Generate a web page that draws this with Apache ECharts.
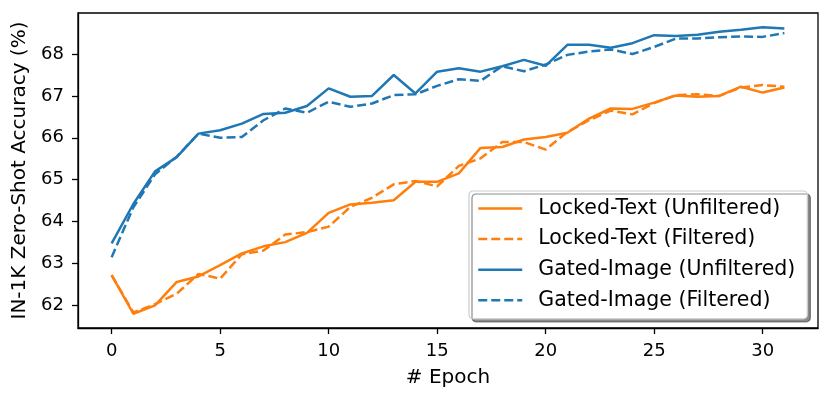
<!DOCTYPE html>
<html>
<head>
<meta charset="utf-8">
<script src="https://cdn.jsdelivr.net/npm/echarts@6/dist/echarts.min.js"></script>
<style>
html,body{margin:0;padding:0;background:#fff;}
#chart{width:831px;height:401px;}
</style>
</head>
<body>
<div id="chart"></div>
<script>
const epochs = [0,1,2,3,4,5,6,7,8,9,10,11,12,13,14,15,16,17,18,19,20,21,22,23,24,25,26,27,28,29,30,31];
const lockedUnfiltered = [62.72,61.80,62.00,62.56,62.69,62.96,63.24,63.41,63.51,63.73,64.21,64.41,64.45,64.51,64.95,64.95,65.15,65.76,65.78,65.96,66.02,66.12,66.46,66.70,66.69,66.84,67.01,66.98,67.00,67.22,67.08,67.20];
const lockedFiltered = [62.72,61.83,62.03,62.28,62.75,62.64,63.22,63.31,63.69,63.75,63.88,64.35,64.57,64.89,64.97,64.84,65.33,65.51,65.90,65.90,65.72,66.14,66.42,66.65,66.56,66.83,67.02,67.04,67.00,67.20,67.26,67.22];
const gatedUnfiltered = [63.48,64.42,65.20,65.54,66.10,66.18,66.34,66.57,66.60,66.76,67.18,66.98,67.00,67.50,67.06,67.58,67.66,67.58,67.71,67.86,67.72,68.22,68.22,68.15,68.26,68.45,68.43,68.46,68.53,68.58,68.64,68.61];
const gatedFiltered = [63.15,64.34,65.13,65.55,66.10,66.00,66.02,66.42,66.70,66.60,66.86,66.74,66.82,67.02,67.04,67.24,67.40,67.36,67.71,67.59,67.75,67.98,68.06,68.11,68.00,68.17,68.37,68.37,68.40,68.42,68.41,68.50];
const xTicks = [0,5,10,15,20,25,30];
const yTicks = [62,63,64,65,66,67,68];
const seriesNames = ['Locked-Text (Unfiltered)','Locked-Text (Filtered)','Gated-Image (Unfiltered)','Gated-Image (Filtered)'];

const ORANGE = '#ff7f0e', BLUE = '#1f77b4';
const FONT = 'DejaVu Sans';
const TICK_FS = 18, NAME_FS = 20, LEG_FS = 20.5;

function pairs(vals){ return epochs.map((e,i)=>[e, vals[i]]); }
function mk(name, vals, color, dashed){
  return {
    name: name, type: 'line', data: pairs(vals),
    symbol: 'none', showSymbol: false, animation: false,
    lineStyle: {color: color, width: 2.5, type: dashed ? [9,4] : 'solid'},
    itemStyle: {color: color}
  };
}

const chart = echarts.init(document.getElementById('chart'), null, {renderer: 'canvas'});
chart.setOption({
  animation: false,
  backgroundColor: '#fff',
  textStyle: {fontFamily: FONT},
  grid: {left: 78, right: 13, top: 13, bottom: 73, show: true, borderColor: '#000', borderWidth: 1.3, backgroundColor: 'transparent'},
  xAxis: {
    type: 'value', min: -1.55, max: 32.55,
    name: '# Epoch', nameLocation: 'middle', nameGap: 40,
    nameTextStyle: {fontFamily: FONT, fontSize: NAME_FS, color: '#000'},
    axisLine: {show: true, onZero: false, lineStyle: {color: '#000', width: 1.3}},
    axisTick: {show: true, length: 6, lineStyle: {color: '#000', width: 1.3}, customValues: xTicks},
    axisLabel: {fontFamily: FONT, fontSize: TICK_FS, color: '#000', margin: 14, customValues: xTicks},
    splitLine: {show: false}
  },
  yAxis: {
    type: 'value', min: 61.46, max: 68.98,
    name: 'IN-1K Zero-Shot Accuracy (%)', nameLocation: 'middle', nameGap: 41,
    nameTextStyle: {fontFamily: FONT, fontSize: NAME_FS, color: '#000'},
    axisLine: {show: true, onZero: false, lineStyle: {color: '#000', width: 1.3}},
    axisTick: {show: true, length: 6, lineStyle: {color: '#000', width: 1.3}, customValues: yTicks},
    axisLabel: {fontFamily: FONT, fontSize: TICK_FS, color: '#000', margin: 14, customValues: yTicks},
    splitLine: {show: false}
  },
  legend: {
    orient: 'vertical', left: 469, top: 191,
    data: seriesNames,
    itemWidth: 44, itemHeight: 14, itemGap: 6.6,
    padding: [5.5, 12, 6.5, 8],
    backgroundColor: '#ffffff',
    borderColor: '#cccccc', borderWidth: 1.2, borderRadius: 4,
    shadowColor: 'rgba(0,0,0,0.45)', shadowBlur: 0, shadowOffsetX: 3, shadowOffsetY: 3,
    itemStyle: {opacity: 0, borderWidth: 0},
    lineStyle: {width: 2.5},
    textStyle: {fontFamily: FONT, fontSize: LEG_FS, color: '#000', lineHeight: 24, padding: [0,0,0,11]}
  },
  series: [
    mk(seriesNames[0], lockedUnfiltered, ORANGE, false),
    mk(seriesNames[1], lockedFiltered, ORANGE, true),
    mk(seriesNames[2], gatedUnfiltered, BLUE, false),
    mk(seriesNames[3], gatedFiltered, BLUE, true)
  ]
});
</script>
</body>
</html>
